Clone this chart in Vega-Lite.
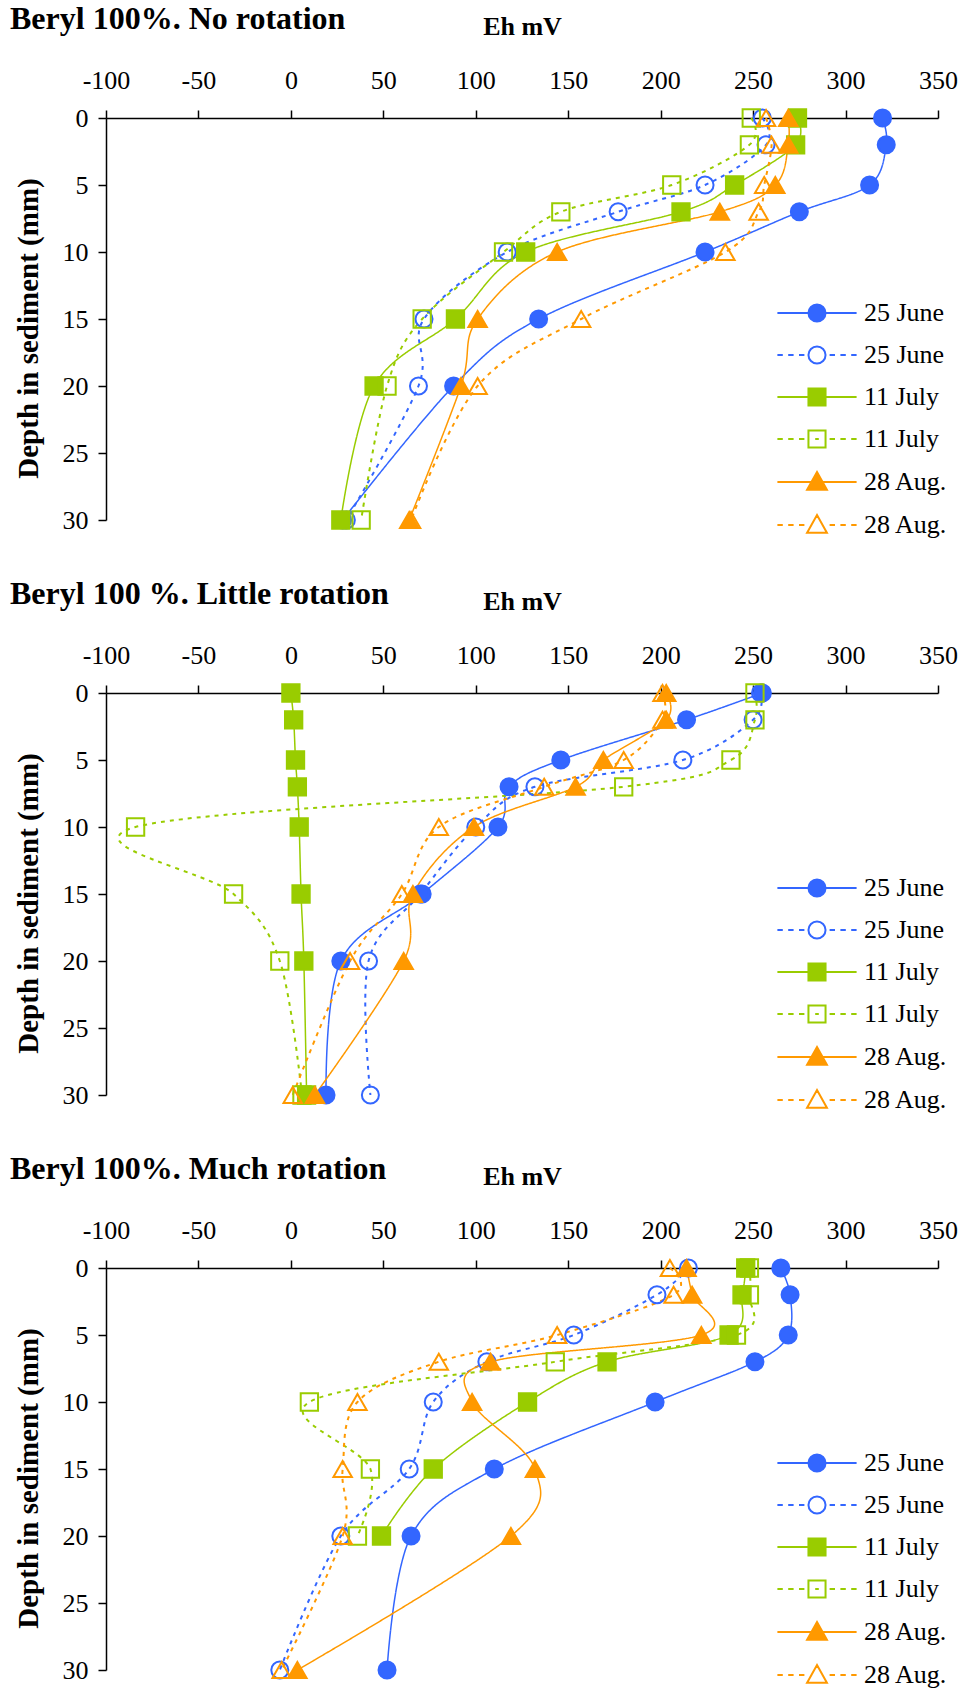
{
  "$schema": "https://vega.github.io/schema/vega-lite/v6.json",
  "background": "white",
  "padding": {"left": 10, "top": 3, "right": 0, "bottom": 0},
  "config": {
    "font": "Liberation Serif",
    "view": {"stroke": null},
    "concat": {"spacing": 40},
    "axis": {
      "labelFont": "Liberation Serif", "labelFontSize": 26, "labelColor": "black", "labelFlush": false,
      "titleFont": "Liberation Serif", "titleColor": "black", "titleFontWeight": "bold",
      "domainColor": "black", "tickColor": "black", "domainWidth": 1.5, "tickWidth": 1.5,
      "tickSize": 8, "grid": false, "labelExpr": "'' + datum.value"
    },
    "title": {"anchor": "start", "frame": "bounds", "font": "Liberation Serif", "fontSize": 32, "fontWeight": "bold", "color": "black", "dx": -4, "dy": 27}
  },
  "datasets": {
    "eh": [
      {"p": "A", "s": "1|25 June", "r": "a", "d": 0, "v": 320}, {"p": "A", "s": "1|25 June", "r": "a", "d": 2, "v": 322}, {"p": "A", "s": "1|25 June", "r": "a", "d": 5, "v": 313}, {"p": "A", "s": "1|25 June", "r": "a", "d": 7, "v": 275}, {"p": "A", "s": "1|25 June", "r": "a", "d": 10, "v": 224}, {"p": "A", "s": "1|25 June", "r": "a", "d": 15, "v": 134}, {"p": "A", "s": "1|25 June", "r": "a", "d": 20, "v": 88}, {"p": "A", "s": "1|25 June", "r": "a", "d": 30, "v": 28},
      {"p": "A", "s": "2|25 June", "r": "b", "d": 0, "v": 255}, {"p": "A", "s": "2|25 June", "r": "b", "d": 2, "v": 257}, {"p": "A", "s": "2|25 June", "r": "b", "d": 5, "v": 224}, {"p": "A", "s": "2|25 June", "r": "b", "d": 7, "v": 177}, {"p": "A", "s": "2|25 June", "r": "b", "d": 10, "v": 117}, {"p": "A", "s": "2|25 June", "r": "b", "d": 15, "v": 72}, {"p": "A", "s": "2|25 June", "r": "b", "d": 20, "v": 69}, {"p": "A", "s": "2|25 June", "r": "b", "d": 30, "v": 30},
      {"p": "A", "s": "3|11 July", "r": "a", "d": 0, "v": 274}, {"p": "A", "s": "3|11 July", "r": "a", "d": 2, "v": 273}, {"p": "A", "s": "3|11 July", "r": "a", "d": 5, "v": 240}, {"p": "A", "s": "3|11 July", "r": "a", "d": 7, "v": 211}, {"p": "A", "s": "3|11 July", "r": "a", "d": 10, "v": 127}, {"p": "A", "s": "3|11 July", "r": "a", "d": 15, "v": 89}, {"p": "A", "s": "3|11 July", "r": "a", "d": 20, "v": 45}, {"p": "A", "s": "3|11 July", "r": "a", "d": 30, "v": 27},
      {"p": "A", "s": "4|11 July", "r": "b", "d": 0, "v": 249}, {"p": "A", "s": "4|11 July", "r": "b", "d": 2, "v": 248}, {"p": "A", "s": "4|11 July", "r": "b", "d": 5, "v": 206}, {"p": "A", "s": "4|11 July", "r": "b", "d": 7, "v": 146}, {"p": "A", "s": "4|11 July", "r": "b", "d": 10, "v": 115}, {"p": "A", "s": "4|11 July", "r": "b", "d": 15, "v": 71}, {"p": "A", "s": "4|11 July", "r": "b", "d": 20, "v": 52}, {"p": "A", "s": "4|11 July", "r": "b", "d": 30, "v": 38},
      {"p": "A", "s": "5|28 Aug.", "r": "a", "d": 0, "v": 269}, {"p": "A", "s": "5|28 Aug.", "r": "a", "d": 2, "v": 269}, {"p": "A", "s": "5|28 Aug.", "r": "a", "d": 5, "v": 262}, {"p": "A", "s": "5|28 Aug.", "r": "a", "d": 7, "v": 232}, {"p": "A", "s": "5|28 Aug.", "r": "a", "d": 10, "v": 144}, {"p": "A", "s": "5|28 Aug.", "r": "a", "d": 15, "v": 101}, {"p": "A", "s": "5|28 Aug.", "r": "a", "d": 20, "v": 92}, {"p": "A", "s": "5|28 Aug.", "r": "a", "d": 30, "v": 64},
      {"p": "A", "s": "6|28 Aug.", "r": "b", "d": 0, "v": 257}, {"p": "A", "s": "6|28 Aug.", "r": "b", "d": 2, "v": 260}, {"p": "A", "s": "6|28 Aug.", "r": "b", "d": 5, "v": 256}, {"p": "A", "s": "6|28 Aug.", "r": "b", "d": 7, "v": 253}, {"p": "A", "s": "6|28 Aug.", "r": "b", "d": 10, "v": 235}, {"p": "A", "s": "6|28 Aug.", "r": "b", "d": 15, "v": 157}, {"p": "A", "s": "6|28 Aug.", "r": "b", "d": 20, "v": 101}, {"p": "A", "s": "6|28 Aug.", "r": "b", "d": 30, "v": 65},

      {"p": "B", "s": "1|25 June", "r": "a", "d": 0, "v": 255}, {"p": "B", "s": "1|25 June", "r": "a", "d": 2, "v": 214}, {"p": "B", "s": "1|25 June", "r": "a", "d": 5, "v": 146}, {"p": "B", "s": "1|25 June", "r": "a", "d": 7, "v": 118}, {"p": "B", "s": "1|25 June", "r": "a", "d": 10, "v": 112}, {"p": "B", "s": "1|25 June", "r": "a", "d": 15, "v": 71}, {"p": "B", "s": "1|25 June", "r": "a", "d": 20, "v": 27}, {"p": "B", "s": "1|25 June", "r": "a", "d": 30, "v": 19},
      {"p": "B", "s": "2|25 June", "r": "b", "d": 0, "v": 254}, {"p": "B", "s": "2|25 June", "r": "b", "d": 2, "v": 250}, {"p": "B", "s": "2|25 June", "r": "b", "d": 5, "v": 212}, {"p": "B", "s": "2|25 June", "r": "b", "d": 7, "v": 132}, {"p": "B", "s": "2|25 June", "r": "b", "d": 10, "v": 100}, {"p": "B", "s": "2|25 June", "r": "b", "d": 15, "v": 70}, {"p": "B", "s": "2|25 June", "r": "b", "d": 20, "v": 42}, {"p": "B", "s": "2|25 June", "r": "b", "d": 30, "v": 43},
      {"p": "B", "s": "3|11 July", "r": "a", "d": 0, "v": 0}, {"p": "B", "s": "3|11 July", "r": "a", "d": 2, "v": 1.5}, {"p": "B", "s": "3|11 July", "r": "a", "d": 5, "v": 2.5}, {"p": "B", "s": "3|11 July", "r": "a", "d": 7, "v": 3.5}, {"p": "B", "s": "3|11 July", "r": "a", "d": 10, "v": 4.5}, {"p": "B", "s": "3|11 July", "r": "a", "d": 15, "v": 5.5}, {"p": "B", "s": "3|11 July", "r": "a", "d": 20, "v": 7}, {"p": "B", "s": "3|11 July", "r": "a", "d": 30, "v": 8.5},
      {"p": "B", "s": "4|11 July", "r": "b", "d": 0, "v": 251}, {"p": "B", "s": "4|11 July", "r": "b", "d": 2, "v": 251}, {"p": "B", "s": "4|11 July", "r": "b", "d": 5, "v": 238}, {"p": "B", "s": "4|11 July", "r": "b", "d": 7, "v": 180}, {"p": "B", "s": "4|11 July", "r": "b", "d": 10, "v": -84}, {"p": "B", "s": "4|11 July", "r": "b", "d": 15, "v": -31}, {"p": "B", "s": "4|11 July", "r": "b", "d": 20, "v": -6}, {"p": "B", "s": "4|11 July", "r": "b", "d": 30, "v": 6},
      {"p": "B", "s": "5|28 Aug.", "r": "a", "d": 0, "v": 203}, {"p": "B", "s": "5|28 Aug.", "r": "a", "d": 2, "v": 203}, {"p": "B", "s": "5|28 Aug.", "r": "a", "d": 5, "v": 169}, {"p": "B", "s": "5|28 Aug.", "r": "a", "d": 7, "v": 154}, {"p": "B", "s": "5|28 Aug.", "r": "a", "d": 10, "v": 99}, {"p": "B", "s": "5|28 Aug.", "r": "a", "d": 15, "v": 66}, {"p": "B", "s": "5|28 Aug.", "r": "a", "d": 20, "v": 61}, {"p": "B", "s": "5|28 Aug.", "r": "a", "d": 30, "v": 13},
      {"p": "B", "s": "6|28 Aug.", "r": "b", "d": 0, "v": 201}, {"p": "B", "s": "6|28 Aug.", "r": "b", "d": 2, "v": 201}, {"p": "B", "s": "6|28 Aug.", "r": "b", "d": 5, "v": 180}, {"p": "B", "s": "6|28 Aug.", "r": "b", "d": 7, "v": 137}, {"p": "B", "s": "6|28 Aug.", "r": "b", "d": 10, "v": 80}, {"p": "B", "s": "6|28 Aug.", "r": "b", "d": 15, "v": 60}, {"p": "B", "s": "6|28 Aug.", "r": "b", "d": 20, "v": 32}, {"p": "B", "s": "6|28 Aug.", "r": "b", "d": 30, "v": 1},

      {"p": "C", "s": "1|25 June", "r": "a", "d": 0, "v": 265}, {"p": "C", "s": "1|25 June", "r": "a", "d": 2, "v": 270}, {"p": "C", "s": "1|25 June", "r": "a", "d": 5, "v": 269}, {"p": "C", "s": "1|25 June", "r": "a", "d": 7, "v": 251}, {"p": "C", "s": "1|25 June", "r": "a", "d": 10, "v": 197}, {"p": "C", "s": "1|25 June", "r": "a", "d": 15, "v": 110}, {"p": "C", "s": "1|25 June", "r": "a", "d": 20, "v": 65}, {"p": "C", "s": "1|25 June", "r": "a", "d": 30, "v": 52},
      {"p": "C", "s": "2|25 June", "r": "b", "d": 0, "v": 215}, {"p": "C", "s": "2|25 June", "r": "b", "d": 2, "v": 198}, {"p": "C", "s": "2|25 June", "r": "b", "d": 5, "v": 153}, {"p": "C", "s": "2|25 June", "r": "b", "d": 7, "v": 106}, {"p": "C", "s": "2|25 June", "r": "b", "d": 10, "v": 77}, {"p": "C", "s": "2|25 June", "r": "b", "d": 15, "v": 64}, {"p": "C", "s": "2|25 June", "r": "b", "d": 20, "v": 27}, {"p": "C", "s": "2|25 June", "r": "b", "d": 30, "v": -6},
      {"p": "C", "s": "3|11 July", "r": "a", "d": 0, "v": 246}, {"p": "C", "s": "3|11 July", "r": "a", "d": 2, "v": 244}, {"p": "C", "s": "3|11 July", "r": "a", "d": 5, "v": 237}, {"p": "C", "s": "3|11 July", "r": "a", "d": 7, "v": 171}, {"p": "C", "s": "3|11 July", "r": "a", "d": 10, "v": 128}, {"p": "C", "s": "3|11 July", "r": "a", "d": 15, "v": 77}, {"p": "C", "s": "3|11 July", "r": "a", "d": 20, "v": 49},
      {"p": "C", "s": "4|11 July", "r": "b", "d": 0, "v": 248}, {"p": "C", "s": "4|11 July", "r": "b", "d": 2, "v": 248}, {"p": "C", "s": "4|11 July", "r": "b", "d": 5, "v": 241}, {"p": "C", "s": "4|11 July", "r": "b", "d": 7, "v": 143}, {"p": "C", "s": "4|11 July", "r": "b", "d": 10, "v": 10}, {"p": "C", "s": "4|11 July", "r": "b", "d": 15, "v": 43}, {"p": "C", "s": "4|11 July", "r": "b", "d": 20, "v": 36},
      {"p": "C", "s": "5|28 Aug.", "r": "a", "d": 0, "v": 214}, {"p": "C", "s": "5|28 Aug.", "r": "a", "d": 2, "v": 217}, {"p": "C", "s": "5|28 Aug.", "r": "a", "d": 5, "v": 222}, {"p": "C", "s": "5|28 Aug.", "r": "a", "d": 7, "v": 108}, {"p": "C", "s": "5|28 Aug.", "r": "a", "d": 10, "v": 98}, {"p": "C", "s": "5|28 Aug.", "r": "a", "d": 15, "v": 132}, {"p": "C", "s": "5|28 Aug.", "r": "a", "d": 20, "v": 119}, {"p": "C", "s": "5|28 Aug.", "r": "a", "d": 30, "v": 3.5},
      {"p": "C", "s": "6|28 Aug.", "r": "b", "d": 0, "v": 205}, {"p": "C", "s": "6|28 Aug.", "r": "b", "d": 2, "v": 207}, {"p": "C", "s": "6|28 Aug.", "r": "b", "d": 5, "v": 144}, {"p": "C", "s": "6|28 Aug.", "r": "b", "d": 7, "v": 80}, {"p": "C", "s": "6|28 Aug.", "r": "b", "d": 10, "v": 36}, {"p": "C", "s": "6|28 Aug.", "r": "b", "d": 15, "v": 28}, {"p": "C", "s": "6|28 Aug.", "r": "b", "d": 20, "v": 28}, {"p": "C", "s": "6|28 Aug.", "r": "b", "d": 30, "v": -5}
    ]
  },
  "resolve": {
    "scale": {"x": "independent", "y": "independent", "stroke": "independent", "fill": "independent", "shape": "independent", "strokeDash": "independent", "strokeWidth": "independent"},
    "legend": {"stroke": "independent", "fill": "independent", "shape": "independent", "strokeDash": "independent", "strokeWidth": "independent"}
  },
  "vconcat": [
    {
      "title": {"text": "Beryl 100%. No rotation"},
      "width": 832, "height": 402,
      "data": {"name": "eh"},
      "transform": [{"filter": "datum.p == 'A'"}],
      "encoding": {
        "x": {"field": "v", "type": "quantitative", "scale": {"domain": [-100, 350], "nice": false, "zero": false},
              "axis": {"orient": "top", "values": [-100, -50, 0, 50, 100, 150, 200, 250, 300, 350], "labelBaseline": "alphabetic", "labelPadding": 22, "title": "Eh mV", "titleFontSize": 26, "titleBaseline": "alphabetic", "titleY": -84}},
        "y": {"field": "d", "type": "quantitative", "scale": {"domain": [0, 30], "reverse": true, "nice": false, "zero": false},
              "axis": {"values": [0, 5, 10, 15, 20, 25, 30], "labelPadding": 10, "title": "Depth in sediment (mm)", "titleFontSize": 29, "titleBaseline": "alphabetic", "titleX": -69, "titleY": 210, "titleAngle": -90, "titleAlign": "center"}},
        "stroke": {"field": "s", "type": "nominal",
                   "scale": {"domain": ["1|25 June", "2|25 June", "3|11 July", "4|11 July", "5|28 Aug.", "6|28 Aug."], "range": ["#3366FF", "#3366FF", "#99CC00", "#99CC00", "#FF9900", "#FF9900"]},
                   "legend": {"orient": "none", "legendX": 698, "legendY": 182, "title": null, "padding": 0, "labelExpr": "split(datum.label, '|')[1]", "labelFont": "Liberation Serif", "labelFontSize": 26, "labelColor": "black", "labelOffset": 34, "symbolSize": 324, "symbolStrokeWidth": 2, "symbolOpacity": 1, "rowPadding": 16}}
      },
      "layer": [
        {"mark": {"type": "line", "interpolate": "cardinal"},
         "encoding": {
           "order": {"field": "d", "type": "quantitative"},
           "strokeDash": {"field": "r", "type": "nominal", "legend": null, "scale": {"domain": ["a", "b"], "range": [[1, 0], [4, 5]]}},
           "strokeWidth": {"field": "r", "type": "nominal", "legend": null, "scale": {"domain": ["a", "b"], "range": [1.5, 2]}}
         }},
        {"transform": [{"filter": "substring(datum.s,0,1) == '1' || substring(datum.s,0,1) == '2'"}],
         "mark": {"type": "point", "shape": "circle", "filled": true, "size": 290, "strokeWidth": 2, "opacity": 1},
         "encoding": {"fill": {"field": "s", "type": "nominal", "scale": {"domain": ["1|25 June", "2|25 June", "3|11 July", "4|11 July", "5|28 Aug.", "6|28 Aug."], "range": ["#3366FF", "transparent", "#99CC00", "transparent", "#FF9900", "transparent"]}}}},
        {"transform": [{"filter": "substring(datum.s,0,1) == '3' || substring(datum.s,0,1) == '4'"}],
         "mark": {"type": "point", "shape": "square", "filled": true, "size": 300, "strokeWidth": 2, "opacity": 1},
         "encoding": {"fill": {"field": "s", "type": "nominal", "scale": {"domain": ["1|25 June", "2|25 June", "3|11 July", "4|11 July", "5|28 Aug.", "6|28 Aug."], "range": ["#3366FF", "transparent", "#99CC00", "transparent", "#FF9900", "transparent"]}}}},
        {"transform": [{"filter": "substring(datum.s,0,1) == '5' || substring(datum.s,0,1) == '6'"}],
         "mark": {"type": "point", "shape": "triangle-up", "filled": true, "size": 340, "strokeWidth": 2, "opacity": 1},
         "encoding": {"fill": {"field": "s", "type": "nominal", "scale": {"domain": ["1|25 June", "2|25 June", "3|11 July", "4|11 July", "5|28 Aug.", "6|28 Aug."], "range": ["#3366FF", "transparent", "#99CC00", "transparent", "#FF9900", "transparent"]}}}},
        {"transform": [{"filter": "false"}],
         "mark": {"type": "point", "filled": true, "opacity": 1},
         "encoding": {
           "shape": {"field": "s", "type": "nominal",
                     "scale": {"domain": ["1|25 June", "2|25 June", "3|11 July", "4|11 July", "5|28 Aug.", "6|28 Aug."], "range": ["M-4.4,0H4.4M-0.95,0A0.95,0.95,0,1,0,0.95,0A0.95,0.95,0,1,0,-0.95,0Z", "M-4.4,0H-3.8M-3.2,0H-2.6M-2,0H-1.4M1.4,0H2M2.6,0H3.2M3.8,0H4.4M-0.95,0A0.95,0.95,0,1,0,0.95,0A0.95,0.95,0,1,0,-0.95,0Z", "M-4.4,0H4.4M-0.95,-0.95H0.95V0.95H-0.95Z", "M-4.4,0H-3.8M-3.2,0H-2.6M-2,0H-1.4M1.4,0H2M2.6,0H3.2M3.8,0H4.4M-0.2,0H0.2M-0.95,-0.95H0.95V0.95H-0.95Z", "M-4.4,0H4.4M0,-1.1L1.1,0.85H-1.1Z", "M-4.4,0H-3.8M-3.2,0H-2.6M-2,0H-1.4M1.4,0H2M2.6,0H3.2M3.8,0H4.4M0,-1.1L1.1,0.85H-1.1Z"]},
                     "legend": {"orient": "none", "legendX": 698, "legendY": 182, "title": null, "padding": 0, "labelExpr": "split(datum.label, '|')[1]", "labelFont": "Liberation Serif", "labelFontSize": 26, "labelColor": "black", "labelOffset": 34, "symbolSize": 324, "symbolStrokeWidth": 2, "symbolOpacity": 1, "rowPadding": 16}},
           "fill": {"field": "s", "type": "nominal", "scale": {"domain": ["1|25 June", "2|25 June", "3|11 July", "4|11 July", "5|28 Aug.", "6|28 Aug."], "range": ["#3366FF", "transparent", "#99CC00", "transparent", "#FF9900", "transparent"]}}
         }}
      ]
    },
    {
      "title": {"text": "Beryl 100 %. Little rotation"},
      "width": 832, "height": 402,
      "data": {"name": "eh"},
      "transform": [{"filter": "datum.p == 'B'"}],
      "encoding": {
        "x": {"field": "v", "type": "quantitative", "scale": {"domain": [-100, 350], "nice": false, "zero": false},
              "axis": {"orient": "top", "values": [-100, -50, 0, 50, 100, 150, 200, 250, 300, 350], "labelBaseline": "alphabetic", "labelPadding": 22, "title": "Eh mV", "titleFontSize": 26, "titleBaseline": "alphabetic", "titleY": -84}},
        "y": {"field": "d", "type": "quantitative", "scale": {"domain": [0, 30], "reverse": true, "nice": false, "zero": false},
              "axis": {"values": [0, 5, 10, 15, 20, 25, 30], "labelPadding": 10, "title": "Depth in sediment (mm)", "titleFontSize": 29, "titleBaseline": "alphabetic", "titleX": -69, "titleY": 210, "titleAngle": -90, "titleAlign": "center"}},
        "stroke": {"field": "s", "type": "nominal",
                   "scale": {"domain": ["1|25 June", "2|25 June", "3|11 July", "4|11 July", "5|28 Aug.", "6|28 Aug."], "range": ["#3366FF", "#3366FF", "#99CC00", "#99CC00", "#FF9900", "#FF9900"]},
                   "legend": {"orient": "none", "legendX": 698, "legendY": 182, "title": null, "padding": 0, "labelExpr": "split(datum.label, '|')[1]", "labelFont": "Liberation Serif", "labelFontSize": 26, "labelColor": "black", "labelOffset": 34, "symbolSize": 324, "symbolStrokeWidth": 2, "symbolOpacity": 1, "rowPadding": 16}}
      },
      "layer": [
        {"mark": {"type": "line", "interpolate": "cardinal"},
         "encoding": {
           "order": {"field": "d", "type": "quantitative"},
           "strokeDash": {"field": "r", "type": "nominal", "legend": null, "scale": {"domain": ["a", "b"], "range": [[1, 0], [4, 5]]}},
           "strokeWidth": {"field": "r", "type": "nominal", "legend": null, "scale": {"domain": ["a", "b"], "range": [1.5, 2]}}
         }},
        {"transform": [{"filter": "substring(datum.s,0,1) == '1' || substring(datum.s,0,1) == '2'"}],
         "mark": {"type": "point", "shape": "circle", "filled": true, "size": 290, "strokeWidth": 2, "opacity": 1},
         "encoding": {"fill": {"field": "s", "type": "nominal", "scale": {"domain": ["1|25 June", "2|25 June", "3|11 July", "4|11 July", "5|28 Aug.", "6|28 Aug."], "range": ["#3366FF", "transparent", "#99CC00", "transparent", "#FF9900", "transparent"]}}}},
        {"transform": [{"filter": "substring(datum.s,0,1) == '3' || substring(datum.s,0,1) == '4'"}],
         "mark": {"type": "point", "shape": "square", "filled": true, "size": 300, "strokeWidth": 2, "opacity": 1},
         "encoding": {"fill": {"field": "s", "type": "nominal", "scale": {"domain": ["1|25 June", "2|25 June", "3|11 July", "4|11 July", "5|28 Aug.", "6|28 Aug."], "range": ["#3366FF", "transparent", "#99CC00", "transparent", "#FF9900", "transparent"]}}}},
        {"transform": [{"filter": "substring(datum.s,0,1) == '5' || substring(datum.s,0,1) == '6'"}],
         "mark": {"type": "point", "shape": "triangle-up", "filled": true, "size": 340, "strokeWidth": 2, "opacity": 1},
         "encoding": {"fill": {"field": "s", "type": "nominal", "scale": {"domain": ["1|25 June", "2|25 June", "3|11 July", "4|11 July", "5|28 Aug.", "6|28 Aug."], "range": ["#3366FF", "transparent", "#99CC00", "transparent", "#FF9900", "transparent"]}}}},
        {"transform": [{"filter": "false"}],
         "mark": {"type": "point", "filled": true, "opacity": 1},
         "encoding": {
           "shape": {"field": "s", "type": "nominal",
                     "scale": {"domain": ["1|25 June", "2|25 June", "3|11 July", "4|11 July", "5|28 Aug.", "6|28 Aug."], "range": ["M-4.4,0H4.4M-0.95,0A0.95,0.95,0,1,0,0.95,0A0.95,0.95,0,1,0,-0.95,0Z", "M-4.4,0H-3.8M-3.2,0H-2.6M-2,0H-1.4M1.4,0H2M2.6,0H3.2M3.8,0H4.4M-0.95,0A0.95,0.95,0,1,0,0.95,0A0.95,0.95,0,1,0,-0.95,0Z", "M-4.4,0H4.4M-0.95,-0.95H0.95V0.95H-0.95Z", "M-4.4,0H-3.8M-3.2,0H-2.6M-2,0H-1.4M1.4,0H2M2.6,0H3.2M3.8,0H4.4M-0.2,0H0.2M-0.95,-0.95H0.95V0.95H-0.95Z", "M-4.4,0H4.4M0,-1.1L1.1,0.85H-1.1Z", "M-4.4,0H-3.8M-3.2,0H-2.6M-2,0H-1.4M1.4,0H2M2.6,0H3.2M3.8,0H4.4M0,-1.1L1.1,0.85H-1.1Z"]},
                     "legend": {"orient": "none", "legendX": 698, "legendY": 182, "title": null, "padding": 0, "labelExpr": "split(datum.label, '|')[1]", "labelFont": "Liberation Serif", "labelFontSize": 26, "labelColor": "black", "labelOffset": 34, "symbolSize": 324, "symbolStrokeWidth": 2, "symbolOpacity": 1, "rowPadding": 16}},
           "fill": {"field": "s", "type": "nominal", "scale": {"domain": ["1|25 June", "2|25 June", "3|11 July", "4|11 July", "5|28 Aug.", "6|28 Aug."], "range": ["#3366FF", "transparent", "#99CC00", "transparent", "#FF9900", "transparent"]}}
         }}
      ]
    },
    {
      "title": {"text": "Beryl 100%. Much rotation"},
      "width": 832, "height": 402,
      "data": {"name": "eh"},
      "transform": [{"filter": "datum.p == 'C'"}],
      "encoding": {
        "x": {"field": "v", "type": "quantitative", "scale": {"domain": [-100, 350], "nice": false, "zero": false},
              "axis": {"orient": "top", "values": [-100, -50, 0, 50, 100, 150, 200, 250, 300, 350], "labelBaseline": "alphabetic", "labelPadding": 22, "title": "Eh mV", "titleFontSize": 26, "titleBaseline": "alphabetic", "titleY": -84}},
        "y": {"field": "d", "type": "quantitative", "scale": {"domain": [0, 30], "reverse": true, "nice": false, "zero": false},
              "axis": {"values": [0, 5, 10, 15, 20, 25, 30], "labelPadding": 10, "title": "Depth in sediment (mm)", "titleFontSize": 29, "titleBaseline": "alphabetic", "titleX": -69, "titleY": 210, "titleAngle": -90, "titleAlign": "center"}},
        "stroke": {"field": "s", "type": "nominal",
                   "scale": {"domain": ["1|25 June", "2|25 June", "3|11 July", "4|11 July", "5|28 Aug.", "6|28 Aug."], "range": ["#3366FF", "#3366FF", "#99CC00", "#99CC00", "#FF9900", "#FF9900"]},
                   "legend": {"orient": "none", "legendX": 698, "legendY": 182, "title": null, "padding": 0, "labelExpr": "split(datum.label, '|')[1]", "labelFont": "Liberation Serif", "labelFontSize": 26, "labelColor": "black", "labelOffset": 34, "symbolSize": 324, "symbolStrokeWidth": 2, "symbolOpacity": 1, "rowPadding": 16}}
      },
      "layer": [
        {"mark": {"type": "line", "interpolate": "cardinal"},
         "encoding": {
           "order": {"field": "d", "type": "quantitative"},
           "strokeDash": {"field": "r", "type": "nominal", "legend": null, "scale": {"domain": ["a", "b"], "range": [[1, 0], [4, 5]]}},
           "strokeWidth": {"field": "r", "type": "nominal", "legend": null, "scale": {"domain": ["a", "b"], "range": [1.5, 2]}}
         }},
        {"transform": [{"filter": "substring(datum.s,0,1) == '1' || substring(datum.s,0,1) == '2'"}],
         "mark": {"type": "point", "shape": "circle", "filled": true, "size": 290, "strokeWidth": 2, "opacity": 1},
         "encoding": {"fill": {"field": "s", "type": "nominal", "scale": {"domain": ["1|25 June", "2|25 June", "3|11 July", "4|11 July", "5|28 Aug.", "6|28 Aug."], "range": ["#3366FF", "transparent", "#99CC00", "transparent", "#FF9900", "transparent"]}}}},
        {"transform": [{"filter": "substring(datum.s,0,1) == '3' || substring(datum.s,0,1) == '4'"}],
         "mark": {"type": "point", "shape": "square", "filled": true, "size": 300, "strokeWidth": 2, "opacity": 1},
         "encoding": {"fill": {"field": "s", "type": "nominal", "scale": {"domain": ["1|25 June", "2|25 June", "3|11 July", "4|11 July", "5|28 Aug.", "6|28 Aug."], "range": ["#3366FF", "transparent", "#99CC00", "transparent", "#FF9900", "transparent"]}}}},
        {"transform": [{"filter": "substring(datum.s,0,1) == '5' || substring(datum.s,0,1) == '6'"}],
         "mark": {"type": "point", "shape": "triangle-up", "filled": true, "size": 340, "strokeWidth": 2, "opacity": 1},
         "encoding": {"fill": {"field": "s", "type": "nominal", "scale": {"domain": ["1|25 June", "2|25 June", "3|11 July", "4|11 July", "5|28 Aug.", "6|28 Aug."], "range": ["#3366FF", "transparent", "#99CC00", "transparent", "#FF9900", "transparent"]}}}},
        {"transform": [{"filter": "false"}],
         "mark": {"type": "point", "filled": true, "opacity": 1},
         "encoding": {
           "shape": {"field": "s", "type": "nominal",
                     "scale": {"domain": ["1|25 June", "2|25 June", "3|11 July", "4|11 July", "5|28 Aug.", "6|28 Aug."], "range": ["M-4.4,0H4.4M-0.95,0A0.95,0.95,0,1,0,0.95,0A0.95,0.95,0,1,0,-0.95,0Z", "M-4.4,0H-3.8M-3.2,0H-2.6M-2,0H-1.4M1.4,0H2M2.6,0H3.2M3.8,0H4.4M-0.95,0A0.95,0.95,0,1,0,0.95,0A0.95,0.95,0,1,0,-0.95,0Z", "M-4.4,0H4.4M-0.95,-0.95H0.95V0.95H-0.95Z", "M-4.4,0H-3.8M-3.2,0H-2.6M-2,0H-1.4M1.4,0H2M2.6,0H3.2M3.8,0H4.4M-0.2,0H0.2M-0.95,-0.95H0.95V0.95H-0.95Z", "M-4.4,0H4.4M0,-1.1L1.1,0.85H-1.1Z", "M-4.4,0H-3.8M-3.2,0H-2.6M-2,0H-1.4M1.4,0H2M2.6,0H3.2M3.8,0H4.4M0,-1.1L1.1,0.85H-1.1Z"]},
                     "legend": {"orient": "none", "legendX": 698, "legendY": 182, "title": null, "padding": 0, "labelExpr": "split(datum.label, '|')[1]", "labelFont": "Liberation Serif", "labelFontSize": 26, "labelColor": "black", "labelOffset": 34, "symbolSize": 324, "symbolStrokeWidth": 2, "symbolOpacity": 1, "rowPadding": 16}},
           "fill": {"field": "s", "type": "nominal", "scale": {"domain": ["1|25 June", "2|25 June", "3|11 July", "4|11 July", "5|28 Aug.", "6|28 Aug."], "range": ["#3366FF", "transparent", "#99CC00", "transparent", "#FF9900", "transparent"]}}
         }}
      ]
    }
  ]
}
